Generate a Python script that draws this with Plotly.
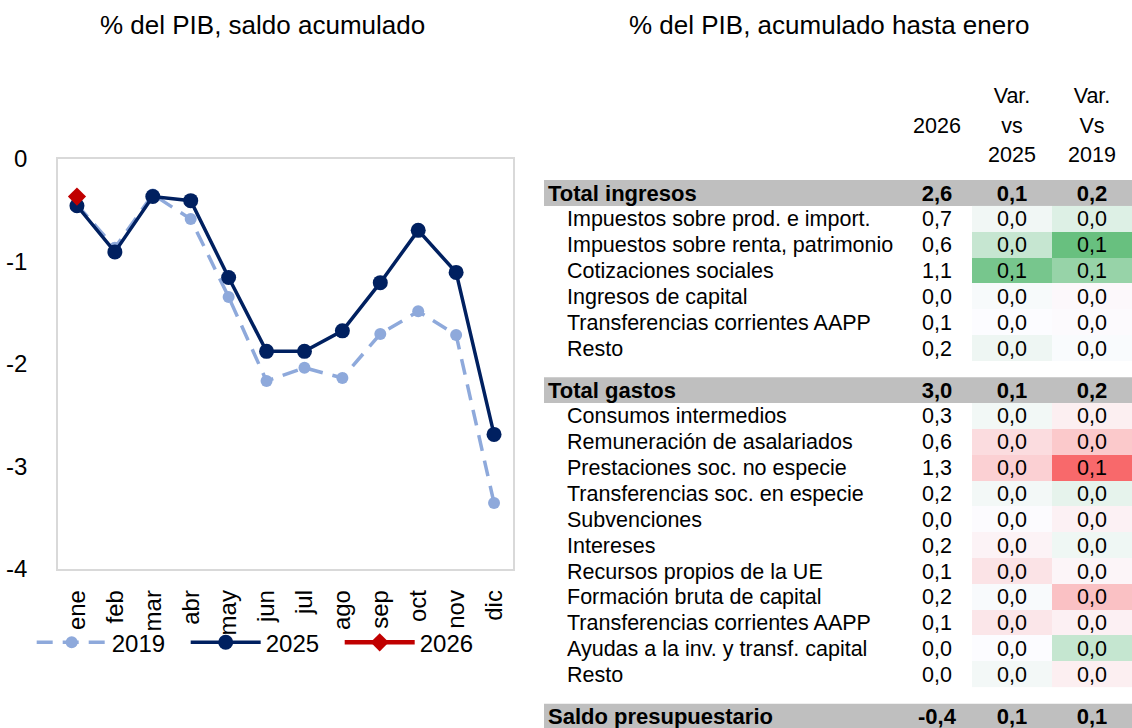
import plotly.graph_objects as go

# ---------------------------------------------------------------- data
meses = ["ene", "feb", "mar", "abr", "may", "jun", "jul", "ago", "sep", "oct", "nov", "dic"]
saldo_2019 = [-0.45, -0.87, -0.35, -0.59, -1.35, -2.17, -2.04, -2.14, -1.71, -1.49, -1.72, -3.36]
saldo_2025 = [-0.46, -0.91, -0.37, -0.41, -1.16, -1.88, -1.88, -1.68, -1.21, -0.70, -1.11, -2.69]
saldo_2026 = [-0.37]
y_ticks = [0, -1, -2, -3, -4]

col_headers = [["", "2026", ""], ["Var.", "vs", "2025"], ["Var.", "Vs", "2019"]]

total_labels = ["Total ingresos", "Total gastos", "Saldo presupuestario"]
total_2026 = [2.6, 3.0, -0.4]
total_var25 = [0.1, 0.1, 0.1]
total_var19 = [0.2, 0.2, 0.1]

ingresos_cat = [
    "Impuestos sobre prod. e import.",
    "Impuestos sobre renta, patrimonio",
    "Cotizaciones sociales",
    "Ingresos de capital",
    "Transferencias corrientes AAPP",
    "Resto",
]
ingresos_2026 = [0.7, 0.6, 1.1, 0.0, 0.1, 0.2]
ingresos_var25 = [0.009, 0.042, 0.104, 0.004, 0.000, 0.011]
ingresos_var19 = [0.024, 0.116, 0.079, -0.003, -0.002, 0.002]

gastos_cat = [
    "Consumos intermedios",
    "Remuneración de asalariados",
    "Prestaciones soc. no especie",
    "Transferencias soc. en especie",
    "Subvenciones",
    "Intereses",
    "Recursos propios de la UE",
    "Formación bruta de capital",
    "Transferencias corrientes AAPP",
    "Ayudas a la inv. y transf. capital",
    "Resto",
]
gastos_2026 = [0.3, 0.6, 1.3, 0.2, 0.0, 0.2, 0.1, 0.2, 0.1, 0.0, 0.0]
gastos_var25 = [-0.008, 0.026, 0.036, -0.007, 0.001, 0.007, 0.020, -0.003, 0.018, 0.000, -0.007]
gastos_var19 = [0.011, 0.042, 0.120, -0.017, 0.009, -0.010, 0.006, 0.048, 0.010, -0.043, 0.011]

# ---------------------------------------------------------------- styles
W, H = 1132, 728
FONT = "Liberation Sans, Arial, sans-serif"
C2019, C2025, C2026 = "#8EA9DB", "#002060", "#C00000"
GRIS = "#BFBFBF"
ESCALA = [[0.0, "#F8696B"], [0.5, "#FCFCFF"], [1.0, "#63BE7B"]]
ZMAX = 0.12

# table layout (x in px units of the table axis, y in row units)
X_BAND = 544
X_HEAD = 548
X_ITEM = 567
X_2026 = 937
X_V25, X_V19 = 1012, 1092
ROW_PX = 25.85
ROW0_PX = 193
GAP = 0.627
TXT_DY = 0.08          # small downward nudge so glyphs sit centred in the cells
HEAD_LAST = -1.48
HEAD_PITCH = 1.14


def fmt(v):
    return f"{round(v, 1) + 0.0:.1f}".replace(".", ",")


# row positions
y_ing_head = 0.0
y_ing = [y_ing_head + 1 + i for i in range(len(ingresos_cat))]
y_gas_head = y_ing[-1] + 1 + GAP
y_gas = [y_gas_head + 1 + i for i in range(len(gastos_cat))]
y_saldo = y_gas[-1] + 1 + GAP
y_totals = [y_ing_head, y_gas_head, y_saldo]

fig = go.Figure()

# ---------------------------------------------------------------- line chart
fig.add_trace(go.Scatter(
    x=meses, y=saldo_2019, name="2019", mode="lines+markers",
    line=dict(color=C2019, width=3.5, dash="16px,10px"),
    marker=dict(color=C2019, size=12, symbol="circle"),
    xaxis="x", yaxis="y",
))
fig.add_trace(go.Scatter(
    x=meses, y=saldo_2025, name="2025", mode="lines+markers",
    line=dict(color=C2025, width=3.5),
    marker=dict(color=C2025, size=15, symbol="circle"),
    xaxis="x", yaxis="y",
))
fig.add_trace(go.Scatter(
    x=meses[:len(saldo_2026)], y=saldo_2026, name="2026", mode="lines+markers",
    line=dict(color=C2026, width=4.5),
    marker=dict(color=C2026, size=14, symbol="diamond"),
    xaxis="x", yaxis="y",
))

# ---------------------------------------------------------------- table
# coloured variation cells
fig.add_trace(go.Heatmap(
    x=[X_V25, X_V19], y=y_ing,
    z=[[a, b] for a, b in zip(ingresos_var25, ingresos_var19)],
    colorscale=ESCALA, zmin=-ZMAX, zmax=ZMAX, showscale=False,
    hoverinfo="skip", xaxis="x2", yaxis="y2", showlegend=False,
))
fig.add_trace(go.Heatmap(
    x=[X_V25, X_V19], y=y_gas,
    z=[[-a, -b] for a, b in zip(gastos_var25, gastos_var19)],
    colorscale=ESCALA, zmin=-ZMAX, zmax=ZMAX, showscale=False,
    hoverinfo="skip", xaxis="x2", yaxis="y2", showlegend=False,
))

# grey total bands
shapes = []
for yt in y_totals:
    shapes.append(dict(
        type="rect", xref="x2", yref="y2", x0=X_BAND, x1=W,
        y0=yt - 0.5, y1=yt + 0.5, fillcolor=GRIS, line=dict(width=0), layer="below",
    ))

txt_font = dict(family=FONT, size=21.5, color="black")
bold_font = dict(family=FONT, size=22, color="black")


def text_trace(xs, ys, texts, pos, font):
    return go.Scatter(
        x=xs, y=[v + TXT_DY for v in ys], text=texts, mode="text", textposition=pos,
        textfont=font, cliponaxis=False, hoverinfo="skip", showlegend=False,
        xaxis="x2", yaxis="y2",
    )


# item labels
items_y = y_ing + y_gas
items_lab = ingresos_cat + gastos_cat
fig.add_trace(text_trace([X_ITEM] * len(items_y), items_y, items_lab, "middle right", txt_font))
# item values
for xc, vals in [
    (X_2026, ingresos_2026 + gastos_2026),
    (X_V25, ingresos_var25 + gastos_var25),
    (X_V19, ingresos_var19 + gastos_var19),
]:
    fig.add_trace(text_trace([xc] * len(items_y), items_y, [fmt(v) for v in vals],
                             "middle center", txt_font))

# totals
fig.add_trace(text_trace([X_HEAD] * 3, y_totals, [f"<b>{t}</b>" for t in total_labels],
                         "middle right", bold_font))
for xc, vals in [(X_2026, total_2026), (X_V25, total_var25), (X_V19, total_var19)]:
    fig.add_trace(text_trace([xc] * 3, y_totals, [f"<b>{fmt(v)}</b>" for v in vals],
                             "middle center", bold_font))

# column headers
hx, hy, ht = [], [], []
for xc, lines in zip([X_2026, X_V25, X_V19], col_headers):
    for k, t in enumerate(lines):
        if t:
            hx.append(xc)
            hy.append(HEAD_LAST - (2 - k) * HEAD_PITCH)
            ht.append(t)
fig.add_trace(text_trace(hx, hy, ht, "middle center", txt_font))

# ---------------------------------------------------------------- layout
top_px, bot_px = 158.6, 568.7
left_px, right_px = 58, 513

fig.update_layout(
    width=W, height=H,
    margin=dict(l=0, r=0, t=0, b=0, autoexpand=False),
    paper_bgcolor="white", plot_bgcolor="rgba(0,0,0,0)",
    font=dict(family=FONT, color="black"),
    hovermode=False,
    shapes=shapes,
    xaxis=dict(
        domain=[left_px / W, right_px / W], anchor="y",
        type="category", range=[-0.5, len(meses) - 0.5],
        tickangle=-90, tickfont=dict(size=24, family=FONT),
        showgrid=False, zeroline=False, ticks="",
        showline=True, mirror=True, linecolor="#D9D9D9", linewidth=1.5,
        ticklabelstandoff=10,
    ),
    yaxis=dict(
        domain=[1 - bot_px / H, 1 - top_px / H], anchor="x",
        range=[-4, 0], tickvals=y_ticks, ticktext=[str(v) for v in y_ticks],
        tickfont=dict(size=24, family=FONT),
        showgrid=False, zeroline=False, ticks="",
        showline=True, mirror=True, linecolor="#D9D9D9", linewidth=1.5,
        ticklabelstandoff=24,
    ),
    xaxis2=dict(domain=[0, 1], anchor="y2", range=[0, W], visible=False),
    yaxis2=dict(domain=[0, 1], anchor="x2",
                range=[(H - ROW0_PX) / ROW_PX, -ROW0_PX / ROW_PX], visible=False),
    legend=dict(
        orientation="h", x=0.028, xanchor="left", y=1 - 642.7 / H, yanchor="middle",
        font=dict(size=24, family=FONT), itemwidth=70, entrywidth=69, tracegroupgap=0,
        bgcolor="rgba(0,0,0,0)",
    ),
    annotations=[
        dict(text="% del PIB, saldo acumulado", x=262 / W, y=1 - 25 / H, xref="paper", yref="paper",
             showarrow=False, font=dict(size=26, family=FONT), xanchor="center", yanchor="middle"),
        dict(text="% del PIB, acumulado hasta enero", x=829 / W, y=1 - 25 / H, xref="paper",
             yref="paper", showarrow=False, font=dict(size=26, family=FONT),
             xanchor="center", yanchor="middle"),
    ],
)

fig.write_html("out.html")
